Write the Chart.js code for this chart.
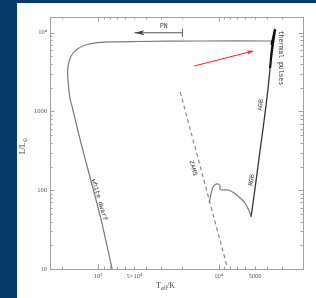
<!DOCTYPE html>
<html><head><meta charset="utf-8">
<script src="https://cdn.jsdelivr.net/npm/chart.js@4.4.0/dist/chart.umd.min.js"></script>
<style>
html,body{margin:0;padding:0;background:#063a6c;width:316px;height:298px;overflow:hidden}
#panel{position:absolute;left:17px;top:3px;width:299px;height:295px;background:#fff}
#wrap{position:absolute;left:0;top:0;width:316px;height:298px}
</style></head><body>
<div id="panel"></div>
<div id="wrap"><canvas id="c" width="316" height="298"></canvas></div>
<script>
// ---- data (T_eff in K, L in L_sun) ----
const msT = [11980, 11646, 11207, 10686, 10092, 9714, 9806, 9350, 8340, 7436, 6633, 6031, 5694, 5482, 5378];
const msL = [68.9, 87.0, 106.8, 118.3, 120.1, 113.2, 103.7, 100.7, 100.7, 92.3, 79.7, 68.9, 57.8, 51.4, 45.8];
const giantT = [5378, 5078, 4797, 4529, 4276, 4039, 3887, 3814, 3743];
const giantL = [45.8, 87.0, 165.6, 324.5, 617, 1209, 1988, 2663, 3568];
const pulseT = [3743, 3535, 3707, 3467, 3672, 3402, 3603, 3434, 3637, 3603];
const pulseL = [3568, 8577, 4252, 9927, 5069, 11160, 6039, 10525, 6988, 7858];
const postT = [3603, 14228, 47330, 69700, 101500, 127600, 148700, 163550, 173200, 178200, 179200, 177200, 171500, 163550, 145800, 127600, 109500, 95850, 85500, 76680];
const postL = [7858, 7858, 7743, 7675, 7476, 6988, 6219, 5374, 4508, 3674, 2994, 2300, 1484, 1108, 533, 242, 100.7, 45.8, 21.4, 10];
const zamsT = [20840, 8500];
const zamsL = [1768, 10.6];
const pnT = [20000, 50000];
const pnL = [10000, 10000];
const redT = [15950, 5176];
const redL = [3783, 5866];
const xTickVals = [100000, 50000, 10000, 5000];
const xTickText = ['10\u2075', '5\u00d710\u2074', '10\u2074', '5000'];
const yTickVals = [10, 100, 1000, 10000];
const yTickText = ['10', '100', '1000', '10\u2074'];
const xMinor = [2000,3000,4000,5000,6000,7000,8000,9000,10000,20000,30000,40000,50000,60000,70000,80000,90000,100000,200000];
const xMajor = [10000, 100000];
const yMinor = [20,30,40,50,60,70,80,90,100,200,300,400,500,600,700,800,900,1000,2000,3000,4000,5000,6000,7000,8000,9000,10000];
const yMajor = [10, 100, 1000, 10000];
const noteText = ['white dwarf', 'ZAMS', 'RGB', 'AGB', 'thermal pulses', 'PN'];
const noteT = [97700, 16260, 5326, 4487, 3034, 28550];
const noteL = [75.2, 191.7, 135, 1209, 4780, 12010];
const noteRot = [74, 75, -82.5, -82.5, 90, 0];

const FONT = '"Liberation Serif", "DejaVu Serif", serif';
const MONO = '"Liberation Mono", "DejaVu Sans Mono", monospace';
const pts = (T, L) => T.map((t, i) => ({x: t, y: L[i]}));
const ds = (T, L, color, width, extra) => Object.assign({
  data: pts(T, L), showLine: true, borderColor: color, borderWidth: width,
  pointRadius: 0, tension: 0.35, fill: false
}, extra || {});

function line(ctx, x1, y1, x2, y2) { ctx.beginPath(); ctx.moveTo(x1, y1); ctx.lineTo(x2, y2); ctx.stroke(); }
function arrowHead(ctx, x1, y1, x2, y2, len, half, color) {
  const a = Math.atan2(y2 - y1, x2 - x1);
  ctx.save(); ctx.fillStyle = color; ctx.translate(x2, y2); ctx.rotate(a);
  ctx.beginPath(); ctx.moveTo(0, 0); ctx.lineTo(-len, -half); ctx.lineTo(-len * 0.75, 0); ctx.lineTo(-len, half); ctx.closePath(); ctx.fill();
  ctx.restore();
}
function richText(ctx, parts, x, y, rot, size, fam) {
  const f = fam || FONT;
  ctx.save(); ctx.translate(x, y); ctx.rotate(rot * Math.PI / 180);
  let w = 0;
  parts.forEach(p => { ctx.font = (p[1] ? size * 0.7 : size) + 'px ' + f; w += ctx.measureText(p[0]).width; });
  let cx = -w / 2; ctx.textBaseline = 'middle'; ctx.textAlign = 'left';
  parts.forEach(p => { ctx.font = (p[1] ? size * 0.7 : size) + 'px ' + f; ctx.fillText(p[0], cx, p[1] ? size * 0.3 : 0); cx += ctx.measureText(p[0]).width; });
  ctx.restore();
}

const decor = {
  id: 'decor',
  afterDatasetsDraw(chart) {
    const ctx = chart.ctx, a = chart.chartArea, xs = chart.scales.x, ys = chart.scales.y;
    ctx.save();
    ctx.strokeStyle = '#a0a0a0'; ctx.lineWidth = 1;
    ctx.strokeRect(Math.round(a.left) + 0.5, Math.round(a.top) + 0.5, Math.round(a.right - a.left), Math.round(a.bottom - a.top));
    xMinor.forEach(v => {
      const p = Math.round(xs.getPixelForValue(v)) + 0.5, len = xMajor.includes(v) ? 4.5 : 2.5;
      line(ctx, p, a.bottom, p, a.bottom - len); line(ctx, p, a.top, p, a.top + len);
    });
    yMinor.forEach(v => {
      const p = Math.round(ys.getPixelForValue(v)) + 0.5, len = yMajor.includes(v) ? 4.5 : 2.5;
      line(ctx, a.left, p, a.left + len, p); line(ctx, a.right, p, a.right - len, p);
    });
    // PN arrow head and bar
    const p0x = xs.getPixelForValue(pnT[0]), p1x = xs.getPixelForValue(pnT[1]), py = ys.getPixelForValue(pnL[0]);
    arrowHead(ctx, p0x, py, p1x, py, 10, 2.4, '#444');
    ctx.strokeStyle = '#555'; line(ctx, p0x, py - 4, p0x, py + 4);
    // red arrow head
    const r0x = xs.getPixelForValue(redT[0]), r0y = ys.getPixelForValue(redL[0]);
    const r1x = xs.getPixelForValue(redT[1]), r1y = ys.getPixelForValue(redL[1]);
    arrowHead(ctx, r0x, r0y, r1x, r1y, 6, 2, '#ff1a1a');
    // annotations
    ctx.fillStyle = '#333';
    noteText.forEach((t, i) => {
      richText(ctx, [[t, false]], xs.getPixelForValue(noteT[i]), ys.getPixelForValue(noteL[i]), noteRot[i], 6.5, MONO);
    });
    // axis titles
    ctx.fillStyle = '#444';
    richText(ctx, [['T', false], ['eff', true], ['/K', false]], (a.left + a.right) / 2 - 11, 286, 0, 8);
    richText(ctx, [['L/L', false], ['\u2299', true]], 23, 146, -90, 8);
    ctx.restore();
  }
};

new Chart(document.getElementById('c'), {
  type: 'scatter',
  data: { datasets: [
    ds(msT, msL, '#7a7a7a', 1.2, {tension: 0.3}),
    ds(giantT, giantL, '#333', 1.3, {tension: 0}),
    ds(pulseT, pulseL, '#111', 2.2, {tension: 0}),
    ds(postT, postL, '#7a7a7a', 1.2, {tension: 0.4}),
    ds(zamsT, zamsL, '#8a8a8a', 1.2, {borderDash: [4, 3], tension: 0}),
    ds(pnT, pnL, '#555', 1, {tension: 0}),
    ds(redT, redL, '#ff1a1a', 1, {tension: 0})
  ]},
  options: {
    responsive: false, animation: false,
    layout: { padding: { left: 0, right: 13, top: 17, bottom: 0 } },
    plugins: { legend: { display: false }, tooltip: { enabled: false } },
    scales: {
      x: {
        type: 'logarithmic', reverse: true, min: 1995.26, max: 251188.6,
        grid: { display: false, drawTicks: false }, border: { display: false },
        ticks: { autoSkip: false, maxRotation: 0, minRotation: 0, padding: 3, color: '#555',
          font: { family: FONT, size: 6.5 },
          callback: (v) => { const i = xTickVals.indexOf(v); return i >= 0 ? xTickText[i] : ''; } },
        afterBuildTicks: (s) => { s.ticks = xTickVals.map(v => ({ value: v })); },
        afterFit: (s) => { s.height = 29; }
      },
      y: {
        type: 'logarithmic', min: 10, max: 15848.9,
        grid: { display: false, drawTicks: false }, border: { display: false },
        ticks: { autoSkip: false, padding: 3, color: '#555',
          font: { family: FONT, size: 6.5 },
          callback: (v) => { const i = yTickVals.indexOf(v); return i >= 0 ? yTickText[i] : ''; } },
        afterBuildTicks: (s) => { s.ticks = yTickVals.map(v => ({ value: v })); },
        afterFit: (s) => { s.width = 50; }
      }
    }
  },
  plugins: [decor]
});
</script>
</body></html>
